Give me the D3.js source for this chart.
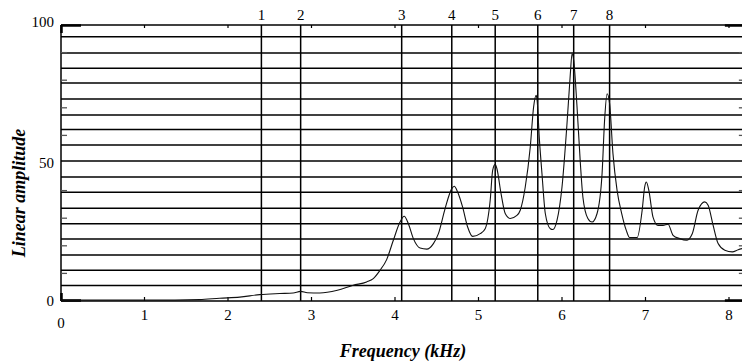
<!DOCTYPE html>
<html>
<head>
    <meta charset="utf-8">
    <style>
        body { margin: 0; background: #fff; }
        svg { display: block; }
        text { font-family: "Liberation Serif", "Times New Roman", serif; fill: #000; }
        .title { font-weight: bold; font-style: italic; font-size: 18px; }
        .tick-label { font-size: 15px; }
        line.grid, line.formant { stroke: #000; stroke-width: 1.5; }
        path.spectrum { fill: none; stroke: #111; stroke-width: 1.1; }
    </style>
</head>
<body>
<div id="chart"></div>
<script src="https://cdn.jsdelivr.net/npm/d3@7"></script>
<script>

    // spectrum: frequency in kHz, linear amplitude
    var freq = [0, 0.47, 1.07, 1.66, 1.90, 2.14, 2.38, 2.62, 2.78, 2.87, 2.95, 3.10, 3.31, 3.50, 3.66, 3.74,
        3.82, 3.90, 3.98, 4.06, 4.11, 4.16, 4.22, 4.30, 4.38, 4.46, 4.52, 4.60, 4.68, 4.71, 4.75, 4.81,
        4.87, 4.93, 5.02, 5.08, 5.14, 5.17, 5.20, 5.22, 5.27, 5.32, 5.38, 5.46, 5.50, 5.56, 5.62, 5.66,
        5.69, 5.70, 5.73, 5.76, 5.80, 5.86, 5.89, 5.94, 6.00, 6.06, 6.10, 6.12, 6.14, 6.18, 6.22, 6.25,
        6.31, 6.36, 6.42, 6.48, 6.51, 6.54, 6.57, 6.61, 6.66, 6.715, 6.77, 6.81, 6.90, 6.96, 6.99, 7.01,
        7.04, 7.09, 7.15, 7.21, 7.27, 7.33, 7.41, 7.49, 7.56, 7.63, 7.71, 7.75, 7.81, 7.87, 7.95, 8.04,
        8.11, 8.16];
    var amp = [0.3, 0.3, 0.3, 0.5, 1.0, 1.4, 2.3, 2.7, 2.9, 3.5, 3.0, 2.9, 3.9, 5.7, 6.9, 8.1,
        11.1, 15.0, 22.0, 28.6, 30.7, 28.0, 22.6, 19.2, 18.8, 20.8, 24.4, 33.5, 40.7, 41.6, 39.5, 34.0,
        26.8, 23.4, 24.4, 26.2, 36.5, 47.4, 49.5, 48.0, 38.9, 31.7, 29.9, 31.0, 32.9, 41.3, 55.8, 70.3,
        74.5, 73.3, 58.2, 46.2, 31.7, 26.2, 25.9, 29.2, 41.3, 64.3, 82.4, 89.6, 87.2, 70.3, 49.8, 37.7,
        29.9, 28.6, 31.7, 46.2, 65.5, 75.1, 71.5, 53.5, 40.0, 31.7, 25.6, 23.0, 23.0, 32.9, 41.3, 43.1,
        40.1, 30.4, 27.4, 27.4, 27.8, 23.8, 22.6, 22.0, 24.4, 32.9, 35.9, 34.7, 27.4, 20.8, 18.4, 17.8,
        18.6, 19.0];

    // formant markers (kHz) and their labels
    var formants = [2.40, 2.87, 4.08, 4.68, 5.20, 5.71, 6.14, 6.57];
    var formantLabels = ["1", "2", "3", "4", "5", "6", "7", "8"];

    // horizontal rules across the plot
    var gridLevels = [5.6, 11.1, 16.7, 22.5, 28.0, 33.6, 39.4, 44.9, 50.7, 56.5, 62.1, 67.4,
        73.2, 79.0, 84.3, 89.9, 95.7, 100];

    var xTicks = [0, 1, 2, 3, 4, 5, 6, 7, 8];
    var yTickLabels = [0, 50, 100];
    var yMinorTicks = [10, 20, 30, 40, 60, 70, 80, 90];

    var width = 742, height = 364;

    var x = d3.scaleLinear().domain([0, 8]).range([61, 729]);
    var y = d3.scaleLinear().domain([0, 100]).range([301, 25]);
    var xMax = 8.19;

    var svg = d3.select("#chart").append("svg")
        .attr("width", width)
        .attr("height", height);

    // grid
    svg.append("g").selectAll("line")
        .data(gridLevels)
        .enter().append("line")
        .attr("class", "grid")
        .attr("x1", x(0)).attr("x2", x(xMax))
        .attr("y1", function (d) { return y(d); })
        .attr("y2", function (d) { return y(d); });

    // formant lines
    svg.append("g").selectAll("line")
        .data(formants)
        .enter().append("line")
        .attr("class", "formant")
        .attr("x1", function (d) { return x(d); })
        .attr("x2", function (d) { return x(d); })
        .attr("y1", y(100)).attr("y2", y(0));

    svg.append("g").selectAll("text")
        .data(formants)
        .enter().append("text")
        .attr("class", "tick-label")
        .attr("text-anchor", "middle")
        .attr("x", function (d) { return x(d); })
        .attr("y", 20)
        .text(function (d, i) { return formantLabels[i]; });

    // frame
    var frame = svg.append("g").attr("stroke", "#000");
    frame.append("line").attr("x1", x(0)).attr("x2", x(0)).attr("y1", y(100)).attr("y2", y(0)).attr("stroke-width", 1.5);
    frame.append("line").attr("x1", x(0)).attr("x2", x(xMax)).attr("y1", y(0)).attr("y2", y(0)).attr("stroke-width", 1.5);
    frame.append("line").attr("x1", x(xMax)).attr("x2", x(xMax)).attr("y1", y(100)).attr("y2", y(0)).attr("stroke-width", 1.5);

    // long heavy ticks at 0 and 100, short light ones between
    [0, 100].forEach(function (v) {
        frame.append("line").attr("x1", x(0)).attr("x2", x(0) + 20)
            .attr("y1", y(v) + (v ? 0.5 : -0.5)).attr("y2", y(v) + (v ? 0.5 : -0.5)).attr("stroke-width", 2.5);
        frame.append("line").attr("x1", x(xMax)).attr("x2", x(xMax) - 20)
            .attr("y1", y(v) + (v ? 0.5 : -0.5)).attr("y2", y(v) + (v ? 0.5 : -0.5)).attr("stroke-width", 2.5);
    });
    frame.append("line").attr("x1", x(0) + 0.5).attr("x2", x(0) + 0.5).attr("y1", y(100)).attr("y2", y(100) + 8).attr("stroke-width", 2.5);
    frame.append("line").attr("x1", x(0) + 0.5).attr("x2", x(0) + 0.5).attr("y1", y(0)).attr("y2", y(0) - 8).attr("stroke-width", 2.5);

    svg.append("g").selectAll("line")
        .data(yMinorTicks)
        .enter().append("line")
        .attr("stroke", "#555").attr("stroke-width", 1.3)
        .attr("x1", x(0)).attr("x2", x(0) + 6)
        .attr("y1", function (d) { return y(d); })
        .attr("y2", function (d) { return y(d); });

    svg.append("g").selectAll("line")
        .data(yMinorTicks)
        .enter().append("line")
        .attr("stroke", "#555").attr("stroke-width", 1.3)
        .attr("x1", x(xMax)).attr("x2", x(xMax) - 6)
        .attr("y1", function (d) { return y(d); })
        .attr("y2", function (d) { return y(d); });

    // x ticks top and bottom
    svg.append("g").selectAll("line")
        .data(xTicks.slice(1))
        .enter().append("line")
        .attr("stroke", "#000").attr("stroke-width", 1.2)
        .attr("x1", function (d) { return x(d); })
        .attr("x2", function (d) { return x(d); })
        .attr("y1", y(0)).attr("y2", y(0) - 4);

    svg.append("g").selectAll("line")
        .data(xTicks.slice(1))
        .enter().append("line")
        .attr("stroke", "#000").attr("stroke-width", 1.2)
        .attr("x1", function (d) { return x(d); })
        .attr("x2", function (d) { return x(d); })
        .attr("y1", y(100)).attr("y2", y(100) + 3);

    // spectrum
    var points = freq.map(function (f, i) { return [f, amp[i]]; });
    var line = d3.line()
        .x(function (d) { return x(d[0]); })
        .y(function (d) { return y(d[1]); })
        .curve(d3.curveMonotoneX);

    svg.append("path")
        .datum(points)
        .attr("class", "spectrum")
        .attr("d", line);

    // tick labels
    svg.append("g").selectAll("text")
        .data(xTicks)
        .enter().append("text")
        .attr("class", "tick-label")
        .attr("text-anchor", "middle")
        .attr("x", function (d) { return x(d); })
        .attr("y", function (d) { return d === 0 ? 328 : 320; })
        .text(function (d) { return d; });

    svg.append("g").selectAll("text")
        .data(yTickLabels)
        .enter().append("text")
        .attr("class", "tick-label")
        .attr("text-anchor", "end")
        .attr("x", 54)
        .attr("y", function (d) { return d === 100 ? 26.5 : y(d) + 5; })
        .text(function (d) { return d; });

    // axis titles
    svg.append("text")
        .attr("class", "title")
        .attr("text-anchor", "middle")
        .attr("x", 403).attr("y", 357)
        .text("Frequency (kHz)");

    svg.append("text")
        .attr("class", "title")
        .attr("text-anchor", "middle")
        .attr("transform", "translate(25,193) rotate(-90)")
        .text("Linear amplitude");

</script>
</body>
</html>
